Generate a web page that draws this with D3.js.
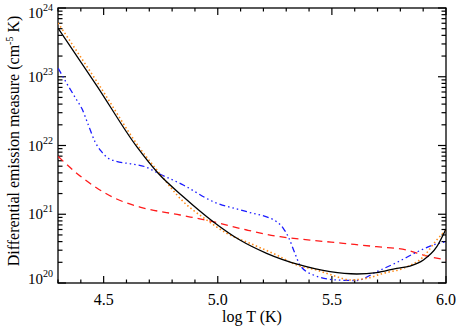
<!DOCTYPE html>
<html>
<head>
<meta charset="utf-8">
<script src="https://cdn.jsdelivr.net/npm/d3@7"></script>
<style>
  body { margin: 0; background: #fff; }
</style>
</head>
<body>
<div id="chart"></div>
<script>
// log T grid and log10 EM, one pair of arrays per curve
var blackT  = [4.30, 4.471, 4.645, 4.739, 4.849, 4.98, 5.097, 5.214, 5.36, 5.492, 5.609, 5.696, 5.784, 5.842, 5.901, 5.959, 6.0];
var blackEM = [23.709, 22.865, 21.983, 21.596, 21.255, 20.892, 20.625, 20.432, 20.262, 20.164, 20.131, 20.15, 20.214, 20.247, 20.335, 20.524, 20.785];

var orangeT  = [4.30, 4.48, 4.659, 4.739, 4.849, 4.952, 5.039, 5.141, 5.258, 5.346, 5.433, 5.521, 5.579, 5.653, 5.725, 5.813, 5.901, 5.959, 6.0];
var orangeEM = [23.782, 22.88, 21.959, 21.619, 21.183, 20.916, 20.723, 20.577, 20.407, 20.262, 20.189, 20.092, 20.044, 20.068, 20.141, 20.214, 20.383, 20.625, 20.771];

var blueT  = [4.301, 4.338, 4.382, 4.404, 4.433, 4.462, 4.491, 4.52, 4.55, 4.623, 4.681, 4.739, 4.849, 4.98, 5.127, 5.258, 5.287, 5.309, 5.338, 5.36, 5.419, 5.521, 5.609, 5.696, 5.784, 5.877, 5.944, 6.0];
var blueEM = [23.123, 22.905, 22.662, 22.541, 22.298, 22.055, 21.91, 21.814, 21.775, 21.731, 21.692, 21.596, 21.425, 21.183, 21.037, 20.892, 20.796, 20.673, 20.432, 20.262, 20.116, 20.044, 20.036, 20.164, 20.298, 20.458, 20.553, 20.601];

var redT  = [4.301, 4.374, 4.47, 4.557, 4.659, 4.835, 4.98, 5.127, 5.273, 5.404, 5.55, 5.696, 5.828, 5.901, 6.0];
var redEM = [21.84, 21.619, 21.382, 21.222, 21.105, 20.989, 20.892, 20.771, 20.673, 20.625, 20.577, 20.528, 20.48, 20.407, 20.335];

var xMajorTicks = [4.5, 5.0, 5.5, 6.0];
var xTickLabels = ["4.5", "5.0", "5.5", "6.0"];
var yDecades = [20, 21, 22, 23, 24];

var width = 458, height = 327;
var margin = { top: 8, right: 12, bottom: 44, left: 58 };
var plotW = width - margin.left - margin.right;
var plotH = height - margin.top - margin.bottom;
var serif = "'Liberation Serif', 'Times New Roman', serif";

var x = d3.scaleLinear().domain([4.3, 6.0]).range([0, plotW]);
var y = d3.scaleLog().domain([1e20, 1e24]).range([plotH, 0]);

var svg = d3.select("#chart").append("svg")
  .attr("width", width).attr("height", height)
  .attr("font-family", serif);
var g = svg.append("g").attr("transform", "translate(" + margin.left + "," + margin.top + ")");

g.append("defs").append("clipPath").attr("id", "clip")
  .append("rect").attr("width", plotW).attr("height", plotH);

// ticks on all four sides, pointing inward (IDL style)
var xMinor = d3.range(43, 61).map(function (v) { return v / 10; });
var yMinor = [];
yDecades.slice(0, -1).forEach(function (d) {
  for (var k = 2; k <= 9; k++) yMinor.push(k * Math.pow(10, d));
});

var ticks = g.append("g").attr("stroke", "#000").attr("stroke-width", 1.2);
xMinor.forEach(function (v) {
  var major = xMajorTicks.some(function (m) { return Math.abs(m - v) < 1e-6; });
  var len = major ? 7 : 3.5;
  ticks.append("line").attr("x1", x(v)).attr("x2", x(v)).attr("y1", plotH).attr("y2", plotH - len);
  ticks.append("line").attr("x1", x(v)).attr("x2", x(v)).attr("y1", 0).attr("y2", len);
});
yDecades.forEach(function (d) {
  var yy = y(Math.pow(10, d));
  ticks.append("line").attr("x1", 0).attr("x2", 8).attr("y1", yy).attr("y2", yy);
  ticks.append("line").attr("x1", plotW).attr("x2", plotW - 8).attr("y1", yy).attr("y2", yy);
});
yMinor.forEach(function (v) {
  var yy = y(v);
  ticks.append("line").attr("x1", 0).attr("x2", 4.5).attr("y1", yy).attr("y2", yy);
  ticks.append("line").attr("x1", plotW).attr("x2", plotW - 4.5).attr("y1", yy).attr("y2", yy);
});

g.append("rect").attr("width", plotW).attr("height", plotH)
  .attr("fill", "none").attr("stroke", "#000").attr("stroke-width", 1.3);

// tick labels
xMajorTicks.forEach(function (v, i) {
  g.append("text").attr("x", x(v)).attr("y", plotH + 22)
    .attr("text-anchor", "middle").attr("font-size", 16).text(xTickLabels[i]);
});
yDecades.forEach(function (d) {
  var yy = Math.min(Math.max(y(Math.pow(10, d)), 5), plotH - 4);
  var t = g.append("text").attr("x", -5).attr("y", yy + 5)
    .attr("text-anchor", "end").attr("font-size", 15);
  t.append("tspan").text("10");
  t.append("tspan").attr("font-size", 10).attr("dy", -7).text(String(d));
});

// axis titles
g.append("text").attr("x", plotW / 2).attr("y", plotH + 39)
  .attr("text-anchor", "middle").attr("font-size", 16).text("log T (K)");

var yl = svg.append("text").attr("transform", "translate(19," + 141 + ") rotate(-90)")
  .attr("text-anchor", "middle").attr("font-size", 16);
yl.append("tspan").text("Differential emission measure (cm");
yl.append("tspan").attr("font-size", 10).attr("dy", -6).text("-5");
yl.append("tspan").attr("dy", 6).text(" K)");

// curves
function curve(ts, ems) {
  return ts.map(function (t, i) { return [t, Math.pow(10, ems[i])]; });
}
var line = d3.line()
  .x(function (d) { return x(d[0]); })
  .y(function (d) { return y(d[1]); })
  .curve(d3.curveMonotoneX);

var series = [
  { data: curve(redT, redEM), color: "#ff1a1a", width: 1.3, dash: "7,5" },
  { data: curve(blueT, blueEM), color: "#1a1aff", width: 1.3, dash: "6,3,1.5,3,1.5,3,1.5,3" },
  { data: curve(orangeT, orangeEM), color: "#ff8c1a", width: 1.6, dash: "1.5,2.5" },
  { data: curve(blackT, blackEM), color: "#000", width: 1.3, dash: null }
];

var lines = g.append("g").attr("clip-path", "url(#clip)");
series.forEach(function (s) {
  lines.append("path").datum(s.data)
    .attr("d", line)
    .attr("fill", "none")
    .attr("stroke", s.color)
    .attr("stroke-width", s.width)
    .attr("stroke-dasharray", s.dash);
});
</script>
</body>
</html>
